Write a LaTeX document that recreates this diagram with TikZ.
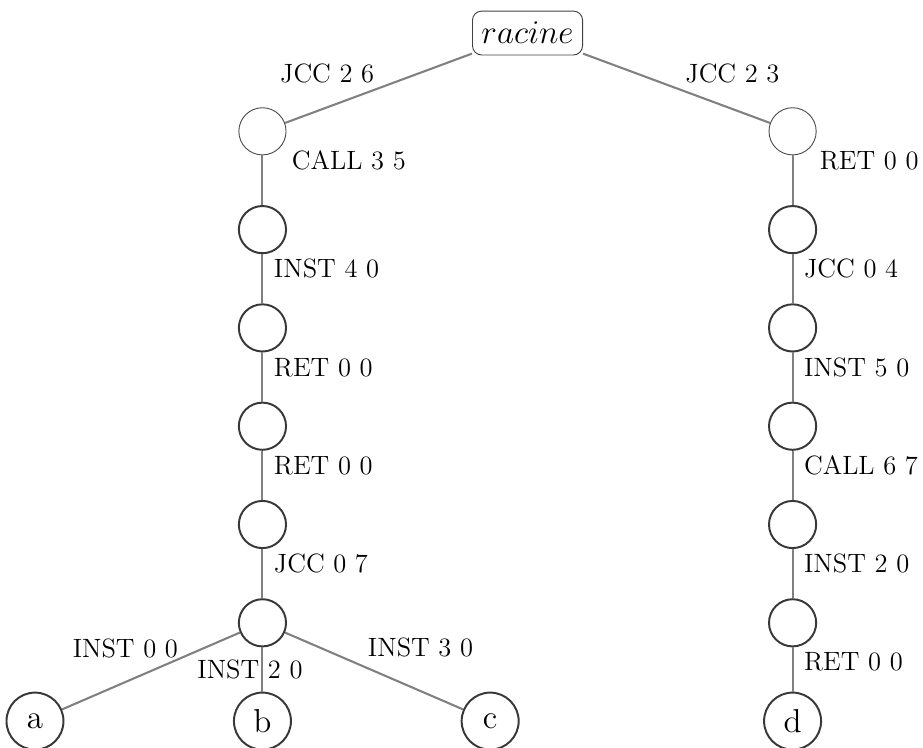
\documentclass[tikz,border=0pt]{standalone}
\usepackage{tikz}
\usetikzlibrary{positioning}

\tikzset{
  racinebox/.style={draw=black!75, thin, rounded corners=4pt, minimum width=1.68cm,
    minimum height=0.67cm, inner sep=0pt, font=\fontsize{13.5}{16}\selectfont},
  etat/.style={circle, draw=black!78, line width=0.85pt, minimum size=0.72cm, inner sep=0pt},
  etatun/.style={etat, draw=black!70, line width=0.4pt},
  feuille/.style={etat, minimum size=0.87cm, font=\fontsize{14.4}{17}\selectfont},
  branche/.style={draw=black!50, line width=0.9pt},
  lbl/.style={font=\fontsize{11.5}{13.8}\selectfont, inner sep=0pt, text=black},
}

\begin{document}
\begin{tikzpicture}
\def\lx{-4.045}   % x of the left chain
\def\rx{4.045}    % x of the right chain
\def\dy{1.5}      % level distance
\useasboundingbox (-8.05,0.504) rectangle (6.035,-10.896);

% ---------- root ----------
\node[racinebox] (racine) at (0,0) {$racine$};

% ---------- left chain ----------
\node[etatun] (g0) at (\lx,-\dy) {};
\foreach \i in {1,...,5}
  \node[etat] (g\i) at (\lx,{-\dy*(\i+1)}) {};
\node[feuille] (fa) at (-7.516,{-7*\dy}) {a};
\node[feuille] (fb) at (\lx,{-7*\dy}) {b};
\node[feuille] (fc) at (-0.57,{-7*\dy}) {c};

% ---------- right chain ----------
\node[etatun] (r0) at (\rx,-\dy) {};
\foreach \i in {1,...,5}
  \node[etat] (r\i) at (\rx,{-\dy*(\i+1)}) {};
\node[feuille] (fd) at (\rx,{-7*\dy}) {d};

% ---------- edges from the root ----------
\draw[branche] (racine) -- node[lbl, pos=0.5, anchor=south east, xshift=-0.5mm, yshift=0.6mm] {JCC 2 6} (g0);
\draw[branche] (racine) -- node[lbl, pos=0.5, anchor=south west, xshift=1.2mm, yshift=0.6mm] {JCC 2 3} (r0);

% ---------- left edges ----------
\draw[branche] (g0) -- node[lbl, pos=0.1, anchor=west, xshift=4.35mm] {CALL 3 5} (g1);
\foreach \i/\j/\t in {1/2/INST 4 0, 2/3/RET 0 0, 3/4/RET 0 0, 4/5/JCC 0 7}
  \draw[branche] (g\i) -- node[lbl, pos=0.3, anchor=west, xshift=1.6mm] {\t} (g\j);
\draw[branche] (g5) -- node[lbl, pos=0.35, anchor=south east, xshift=0.2mm] {INST 0 0} (fa);
\draw[branche] (g5) -- node[lbl, pos=0.5, xshift=-1.9mm] {INST 2 0} (fb);
\draw[branche] (g5) -- node[lbl, pos=0.46, anchor=south west, yshift=1.5mm] {INST 3 0} (fc);

% ---------- right edges ----------
\draw[branche] (r0) -- node[lbl, pos=0.1, anchor=west, xshift=4mm] {RET 0 0} (r1);
\foreach \i/\j/\t in {1/2/JCC 0 4, 2/3/INST 5 0, 3/4/CALL 6 7, 4/5/INST 2 0}
  \draw[branche] (r\i) -- node[lbl, pos=0.3, anchor=west, xshift=1.6mm] {\t} (r\j);
\draw[branche] (r5) -- node[lbl, pos=0.33, anchor=west, xshift=1.6mm] {RET 0 0} (fd);

\end{tikzpicture}
\end{document}
